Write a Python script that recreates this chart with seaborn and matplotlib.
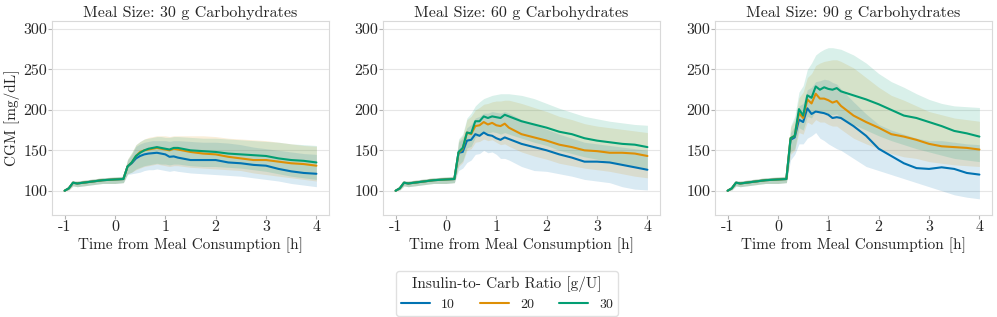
import numpy as np
import pandas as pd
import matplotlib.pyplot as plt
import seaborn as sns

# time grid [h], shared by all series
time_h = [-1.0, -0.917, -0.833, -0.75, -0.5, -0.25, 0.0, 0.167,
          0.25, 0.333, 0.417, 0.5, 0.583, 0.667, 0.75, 0.833, 0.917, 1.0,
          1.083, 1.167, 1.25, 1.5, 1.75, 2.0, 2.25, 2.5, 2.75, 3.0, 3.25,
          3.5, 3.75, 4.0]

# pre-meal part (same for every panel / ratio)
pre_mean = [100, 103, 110, 109, 111, 113, 114, 114.5]
pre_lo = [100, 101, 106, 105, 107, 109, 109, 110]
pre_hi = [100, 105, 112, 112, 114, 116, 117, 118]

meal_sizes = [30, 60, 90]
ratios = [10, 20, 30]

# post-meal means and band limits, 30 g
m30_r10 = [130, 134, 140, 143, 145, 146, 146.5, 147, 146, 145, 142, 142.5, 141, 138, 138, 138, 135, 134, 132, 131, 127, 124, 122, 121]
m30_r20 = [130, 135, 143, 148, 150, 151, 152, 153, 152, 151, 150, 152, 151, 148, 146, 145, 142, 140, 138, 138, 136, 134, 133, 131]
m30_r30 = [130, 135, 143, 147, 150, 152, 153, 154, 153, 152, 151, 153, 153, 150, 149, 148, 146, 145, 144, 143, 140, 138, 137, 135]
lo30_r10 = [120, 121, 122, 123, 125, 126, 126, 127, 126, 125, 124, 125, 124, 122, 121, 120, 119, 118, 116, 114, 112, 109, 107, 105]
hi30_r10 = [138, 145, 155, 158, 160, 161, 162, 162, 162, 162, 161, 162, 162, 161, 160, 160, 159, 157, 154, 152, 150, 148, 146, 145]
lo30_r20 = [121, 123, 126, 128, 130, 131, 132, 133, 132, 131, 130, 131, 131, 129, 128, 127, 126, 125, 122, 120, 118, 116, 114, 112]
hi30_r20 = [139, 147, 157, 161, 164, 166, 167, 168, 168, 168, 167, 168, 168, 168, 168, 167, 165, 164, 163, 162, 160, 158, 156, 155]
lo30_r30 = [121, 123, 127, 129, 131, 132, 133, 134, 133, 133, 132, 133, 133, 131, 130, 130, 129, 128, 126, 124, 121, 118, 116, 114]
hi30_r30 = [139, 147, 157, 161, 164, 165, 166, 167, 167, 166, 166, 167, 167, 166, 165, 165, 164, 163, 162, 161, 160, 158, 157, 156]

# 60 g
m60_r10 = [147, 148, 162, 163, 170, 168, 172, 169, 168, 165, 163, 166, 164, 158, 154, 150, 145, 141, 136, 136, 135, 132, 129, 126]
m60_r20 = [147, 152, 172, 170, 180, 181, 185, 182, 184, 181, 180, 183, 178, 170, 166, 162, 157, 154, 150, 149, 147, 147, 146, 143]
m60_r30 = [148, 153, 172, 171, 186, 186, 192, 190, 192, 191, 190, 194, 192, 186, 182, 178, 173, 170, 165, 162, 160, 158, 157, 154]
lo60_r10 = [125, 128, 135, 138, 145, 146, 150, 147, 148, 145, 140, 140, 138, 130, 125, 124, 121, 118, 114, 112, 110, 105, 102, 101]
hi60_r10 = [160, 165, 178, 182, 190, 192, 196, 196, 198, 197, 196, 198, 196, 188, 182, 176, 170, 165, 160, 158, 156, 154, 152, 150]
lo60_r20 = [130, 135, 150, 152, 160, 161, 164, 162, 163, 160, 157, 158, 155, 148, 143, 139, 134, 131, 128, 126, 124, 121, 118, 116]
hi60_r20 = [162, 168, 188, 192, 200, 203, 207, 208, 210, 211, 211, 212, 212, 208, 203, 198, 192, 188, 183, 180, 178, 176, 174, 172]
lo60_r30 = [132, 137, 153, 155, 166, 168, 172, 171, 173, 172, 170, 172, 170, 165, 160, 156, 150, 146, 142, 139, 136, 133, 130, 128]
hi60_r30 = [164, 170, 190, 196, 205, 210, 214, 216, 218, 219, 220, 220, 220, 218, 214, 208, 202, 197, 192, 189, 186, 184, 182, 181]

# 90 g
m90_r10 = [163, 166, 188, 185, 202, 195, 198, 197, 196, 194, 190, 191, 190, 180, 168, 152, 143, 134, 128, 127, 129, 127, 122, 120]
m90_r20 = [165, 168, 196, 190, 213, 208, 220, 214, 214, 212, 209, 211, 205, 193, 185, 178, 170, 167, 163, 158, 155, 154, 153, 151]
m90_r30 = [165, 168, 201, 193, 218, 215, 229, 225, 228, 226, 225, 227, 223, 218, 213, 207, 200, 193, 190, 185, 180, 174, 171, 167]
lo90_r10 = [138, 145, 158, 158, 165, 168, 172, 165, 162, 158, 155, 152, 150, 140, 130, 125, 120, 115, 110, 105, 100, 95, 92, 90]
hi90_r10 = [172, 180, 205, 208, 225, 228, 235, 236, 238, 237, 234, 232, 226, 210, 195, 182, 175, 170, 165, 162, 162, 160, 158, 157]
lo90_r20 = [145, 150, 172, 170, 185, 182, 188, 185, 185, 182, 180, 180, 176, 165, 158, 152, 146, 142, 140, 136, 134, 132, 131, 130]
hi90_r20 = [178, 188, 215, 222, 240, 245, 255, 258, 260, 261, 262, 262, 260, 252, 240, 228, 218, 212, 205, 198, 194, 190, 188, 186]
lo90_r30 = [148, 152, 178, 175, 192, 190, 200, 196, 198, 195, 194, 195, 190, 182, 175, 168, 162, 157, 152, 148, 144, 140, 138, 136]
hi90_r30 = [180, 192, 222, 230, 250, 258, 268, 272, 275, 277, 277, 276, 275, 268, 258, 245, 235, 228, 220, 213, 208, 205, 204, 203]

means = {30: [m30_r10, m30_r20, m30_r30], 60: [m60_r10, m60_r20, m60_r30], 90: [m90_r10, m90_r20, m90_r30]}
lows = {30: [lo30_r10, lo30_r20, lo30_r30], 60: [lo60_r10, lo60_r20, lo60_r30], 90: [lo90_r10, lo90_r20, lo90_r30]}
highs = {30: [hi30_r10, hi30_r20, hi30_r30], 60: [hi60_r10, hi60_r20, hi60_r30], 90: [hi90_r10, hi90_r20, hi90_r30]}

# build long dataframe
rows = []
for meal in meal_sizes:
    for i, r in enumerate(ratios):
        cgm = pre_mean + means[meal][i]
        lo = pre_lo + lows[meal][i]
        hi = pre_hi + highs[meal][i]
        for t, c, l, h in zip(time_h, cgm, lo, hi):
            rows.append({"meal": meal, "ratio": str(r), "time": t, "cgm": c, "lo": l, "hi": h})
df = pd.DataFrame(rows)

sns.set_theme(style="whitegrid")
plt.rcParams['font.family'] = ['cmr10', 'DejaVu Serif']
plt.rcParams['mathtext.fontset'] = 'cm'
plt.rcParams['axes.unicode_minus'] = False
plt.rcParams['axes.formatter.use_mathtext'] = False

colors = sns.color_palette("colorblind")[:3]
palette = dict(zip([str(r) for r in ratios], colors))

fig = plt.figure(figsize=(9.97, 3.17), dpi=100)
lefts = [52, 383, 715]
axes = [fig.add_axes([l / 997, 1 - 215 / 317, 277 / 997, 194 / 317]) for l in lefts]

for ax, meal in zip(axes, meal_sizes):
    sub = df[df["meal"] == meal]
    for r in ratios:
        s = sub[sub["ratio"] == str(r)]
        ax.fill_between(s["time"], s["lo"], s["hi"], color=palette[str(r)], alpha=0.15, linewidth=0)
    sns.lineplot(data=sub, x="time", y="cgm", hue="ratio", palette=palette, ax=ax,
                 linewidth=1.5, legend=(meal == 60))
    ax.set_title(f"Meal Size: {meal} g Carbohydrates", fontsize=11.5, pad=3)
    ax.set_xlabel("Time from Meal Consumption [h]", fontsize=11, labelpad=2.5)
    ax.set_ylabel("CGM [mg/dL]" if meal == 30 else "", fontsize=11, labelpad=2)
    ax.set_ylim(70, 310)
    ax.set_xlim(-1.25, 4.25)
    ax.set_yticks([100, 150, 200, 250, 300])
    ax.set_xticks([-1, 0, 1, 2, 3, 4])
    ax.grid(axis="x", visible=False)
    ax.grid(axis="y", color="0.9", linewidth=0.8)
    ax.tick_params(left=True, bottom=True, length=3, width=0.8, color="0.7", labelsize=11.5, pad=0.5)
    for sp in ax.spines.values():
        sp.set_color("0.85")
        sp.set_linewidth(0.8)

handles, labels = axes[1].get_legend_handles_labels()
axes[1].get_legend().remove()
leg = fig.legend(handles, labels, title="Insulin-to- Carb Ratio [g/U]", ncol=3,
                 loc="upper center", bbox_to_anchor=(507 / 997, 1 - 264 / 317),
                 fontsize=10, title_fontsize=11, frameon=True, handlelength=2.1,
                 columnspacing=1.8, borderpad=0.35, handletextpad=0.8)
leg.get_frame().set_edgecolor("0.85")

fig.savefig("out.png", dpi=100)
